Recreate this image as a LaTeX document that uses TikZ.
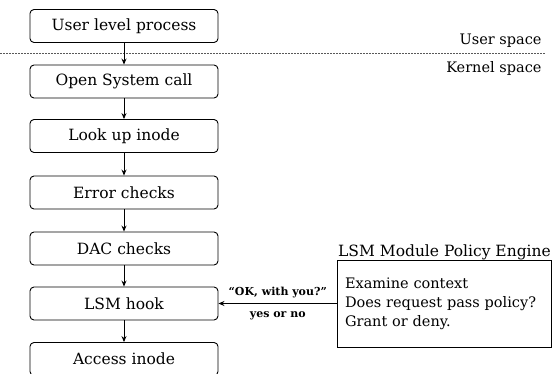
\documentclass[tikz,border=0pt]{standalone}
\usepackage{fontspec}
\setmainfont{DejaVu Serif}
\usetikzlibrary{arrows.meta}
\begin{document}
\begin{tikzpicture}[x=1pt,y=-1pt,
  stage/.style={draw,rounded corners=4pt,line width=0.9pt,minimum width=188pt,
    minimum height=33pt,inner sep=0pt,font=\fontsize{15.5}{17}\selectfont},
  flow/.style={line width=0.9pt,-{Stealth[length=6pt,width=5pt]}},
  side/.style={font=\fontsize{14.5}{16}\selectfont,anchor=east},
  tag/.style={font=\bfseries\fontsize{11}{13}\selectfont}]
\useasboundingbox (0,0) rectangle (557,374);

% boundary between user and kernel space
\coordinate (sepL) at (0,53);
\coordinate (sepR) at (545,53);
\draw[line width=0.8pt,gray!70!black,dash pattern=on 1.5pt off 1.5pt] (sepL) -- (sepR);
\node[side] (us) at (545,41) {User space};
\node[side] (ks) at (545,69) {Kernel space};

% call path through the kernel
\node[stage] (p1) at (124,26)    {User level process};
\node[stage] (p2) at (124,81.5)  {Open System call};
\node[stage] (p3) at (124,136)   {Look up inode};
\node[stage] (p4) at (124,192.5) {Error checks};
\node[stage] (p5) at (124,248.5) {DAC checks};
\node[stage] (p6) at (124,303.5) {LSM hook};
\node[stage] (p7) at (124,359)   {Access inode};

\foreach \a/\b in {p1/p2,p2/p3,p3/p4,p4/p5,p5/p6,p6/p7}
  \draw[flow] (\a) -- (\b);

% policy engine
\node[draw,line width=0.9pt,minimum width=214pt,minimum height=87pt,
      text width=199pt,inner sep=0pt,align=left,
      font=\fontsize{14.5}{19}\selectfont] (lsm) at (444.5,303.5)
  {Examine context\\Does request pass policy?\\Grant or deny.};
\node[font=\fontsize{15.5}{17}\selectfont,anchor=south] (lsmt) at ([yshift=-4pt]lsm.north)
  {LSM Module Policy Engine};

\draw[flow] (lsm.west) -- (p6.east)
  node[tag,midway,above=2pt] (ask) {``OK, with you?''}
  node[tag,midway,below=4pt] (ans) {yes or no};
\end{tikzpicture}
\end{document}
